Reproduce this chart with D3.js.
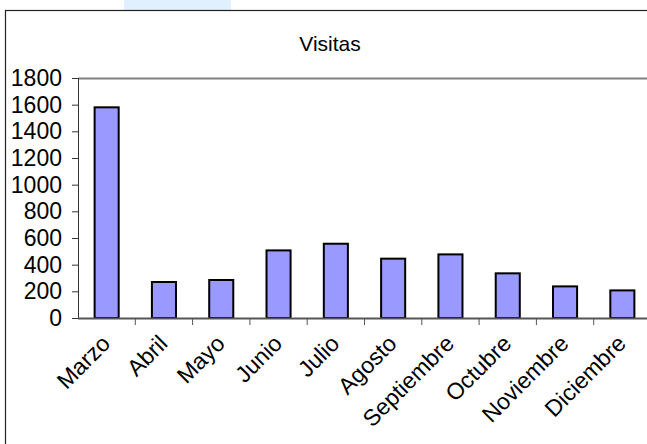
<!doctype html>
<html>
<head>
<meta charset="UTF-8">
<title>Visitas</title>
<script src="https://cdnjs.cloudflare.com/ajax/libs/d3/7.8.5/d3.min.js"></script>
<style>
  body { margin: 0; background: #fff; }
  svg { display: block; font-family: "Liberation Sans", Arial, sans-serif; }
</style>
</head>
<body>
<svg id="chart" width="647" height="444"></svg>
<script>
// data
const months = ['Marzo', 'Abril', 'Mayo', 'Junio', 'Julio', 'Agosto',
                'Septiembre', 'Octubre', 'Noviembre', 'Diciembre'];
const visits = [1580, 270, 285, 507, 557, 445, 477, 335, 237, 207];
const yTicks = [0, 200, 400, 600, 800, 1000, 1200, 1400, 1600, 1800];

(function () {
  'use strict';

  const svg = d3.select('#chart');
  const plot = { left: 78, right: 651, top: 78, bottom: 318 };

  // light blue patch at the very top and the chart frame
  svg.append('rect')
    .attr('x', 124).attr('y', 0).attr('width', 107).attr('height', 10)
    .attr('fill', '#e1f0ff');
  svg.append('rect')
    .attr('x', 5.5).attr('y', 10.5).attr('width', 700).attr('height', 500)
    .attr('fill', '#fff').attr('stroke', '#222').attr('stroke-width', 1.2);

  svg.append('text')
    .attr('x', 330).attr('y', 51)
    .attr('text-anchor', 'middle')
    .attr('font-size', '21px')
    .text('Visitas');

  const x = d3.scaleBand()
    .domain(months)
    .range([plot.left, plot.right])
    .paddingInner(0.58)
    .paddingOuter(0.29);

  const y = d3.scaleLinear()
    .domain([0, 1800])
    .range([plot.bottom, plot.top]);

  // plot area border (top and right), gray
  svg.append('path')
    .attr('d', 'M' + plot.left + ',' + (y(1800) + 0.5) + 'H' + plot.right + 'V' + plot.bottom)
    .attr('fill', 'none').attr('stroke', '#808080').attr('stroke-width', 2);

  // bars
  svg.append('g').selectAll('rect')
    .data(months)
    .join('rect')
      .attr('x', d => x(d))
      .attr('y', (d, i) => y(visits[i]))
      .attr('width', x.bandwidth())
      .attr('height', (d, i) => y(0) - y(visits[i]))
      .attr('fill', '#9999ff')
      .attr('stroke', '#000')
      .attr('stroke-width', 2);

  // y axis
  const yAxis = svg.append('g')
    .attr('transform', 'translate(' + plot.left + ',0)')
    .call(d3.axisLeft(y).tickValues(yTicks).tickSize(6).tickPadding(10).tickFormat(d3.format('d')));
  yAxis.select('.domain').attr('stroke', '#333');
  yAxis.selectAll('.tick line').attr('stroke', '#333');
  yAxis.selectAll('text').attr('font-size', '23px').attr('fill', '#000')
    .attr('font-family', '"Liberation Sans", Arial, sans-serif');

  // x axis line
  svg.append('line')
    .attr('x1', plot.left).attr('x2', plot.right)
    .attr('y1', y(0) + 0.5).attr('y2', y(0) + 0.5)
    .attr('stroke', '#555').attr('stroke-width', 2);

  // category boundary ticks
  const step = x.step();
  svg.append('g').selectAll('line')
    .data(months.slice(1))
    .join('line')
      .attr('x1', d => x(d) - step * x.paddingOuter())
      .attr('x2', d => x(d) - step * x.paddingOuter())
      .attr('y1', y(0)).attr('y2', y(0) + 7)
      .attr('stroke', '#555').attr('stroke-width', 1);

  // rotated month labels
  svg.append('g').selectAll('text')
    .data(months)
    .join('text')
      .attr('transform', d => 'translate(' + (x(d) + x.bandwidth() / 2 + 5) + ',' + (y(0) + 27) + ') rotate(-45)')
      .attr('text-anchor', 'end')
      .attr('font-size', '23px')
      .text(d => d);
})();
</script>
</body>
</html>
